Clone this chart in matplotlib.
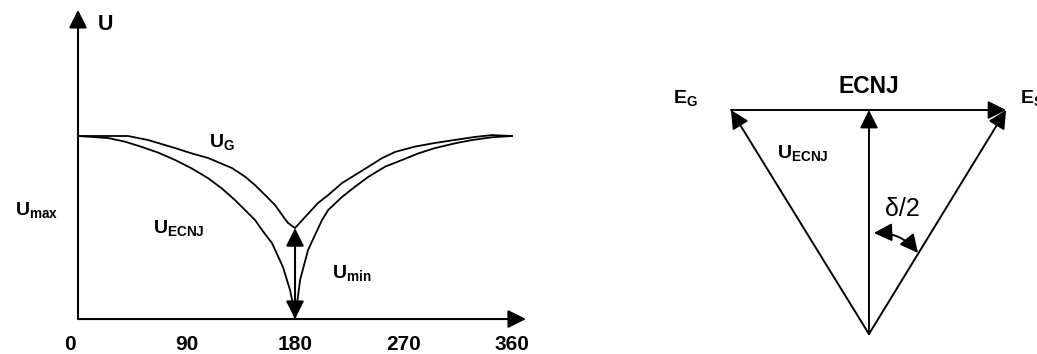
import numpy as np
import matplotlib
matplotlib.use('Agg')
import matplotlib.pyplot as plt
from matplotlib.patches import FancyArrowPatch

plt.rcParams['font.family'] = ['Liberation Sans', 'DejaVu Sans']
plt.rcParams['mathtext.fontset'] = 'custom'
plt.rcParams['mathtext.rm'] = 'Liberation Sans:bold'
plt.rcParams['mathtext.it'] = 'Liberation Sans:bold'
plt.rcParams['mathtext.bf'] = 'Liberation Sans:bold'

# left panel: voltage vs angle (deg), U relative to Umax
angle_ecnj = [0, 24.9, 39.0, 53.1, 66.6, 80.5, 94.3, 107.8, 119.2, 130.2, 146.8, 153.7,
              160.9, 170.0, 175.9, 178.3, 180,
              181.8, 184.2, 190.8, 202.4, 207.6, 219.0, 229.8, 240.6, 254.6, 268.8,
              282.3, 296.1, 312.7, 326.8, 343.2, 360]
u_ecnj = [1.0, 0.989, 0.969, 0.940, 0.909, 0.869, 0.823, 0.770, 0.714, 0.650, 0.541, 0.477,
          0.415, 0.284, 0.158, 0.08, 0.0,
          0.09, 0.213, 0.377, 0.541, 0.596, 0.667, 0.723, 0.776, 0.832, 0.869,
          0.905, 0.934, 0.960, 0.978, 0.993, 1.0]

angle_g = [0, 25.2, 41.5, 58.1, 69.4, 80.5, 94.3, 107.8, 127.7, 138.5, 146.8, 155.1,
           163.4, 170.3, 174.2, 180,
           188.3, 199.1, 207.6, 219.0, 229.8, 240.6, 251.9, 263.0, 279.5, 296.1,
           329.3, 343.4, 360]
u_g = [1.0, 1.0, 1.0, 0.978, 0.956, 0.934, 0.905, 0.880, 0.825, 0.778, 0.732, 0.678,
       0.623, 0.559, 0.525, 0.497,
       0.557, 0.634, 0.678, 0.743, 0.787, 0.831, 0.878, 0.913, 0.942, 0.962,
       0.995, 1.005, 1.0]

tick_vals = [0, 90, 180, 270, 360]
tick_labels = ['0', '90', '180', '270', '360']

# right panel: phasor tips (origin at bottom vertex, |U_ECNJ| = 1)
e_g = (-0.616, 1.0)
e_s = (0.612, 1.0)
u_vec = (0.0, 1.0)

HEAD = '-|>,head_length=1.1,head_width=0.55'
HEAD2 = '<|-|>,head_length=1.1,head_width=0.55'


def arrow(ax, start, end, style=HEAD, lw=1.5):
    ax.annotate('', xy=end, xytext=start,
                arrowprops=dict(arrowstyle=style, color='k', lw=lw,
                                mutation_scale=10, shrinkA=0, shrinkB=0))


fig = plt.figure(figsize=(10.37, 3.54), dpi=100)

ax = fig.add_axes([0, 0, 540 / 1037, 1])
ax.set_xlim(-64.7, 383.2)
ax.set_ylim(-0.191, 1.743)
ax.axis('off')

ax.plot(angle_ecnj, u_ecnj, color='k', lw=1.3)
ax.plot(angle_g, u_g, color='k', lw=1.3)

arrow(ax, (0, 0), (371.6, 0))
arrow(ax, (0, 0), (0, 1.689))
arrow(ax, (180, 0), (180, min(u_g)), style=HEAD2)

for v, lab in zip(tick_vals, tick_labels):
    ax.annotate(lab, (v, -0.169), xytext=(-6 if v == 0 else 0, 0),
                textcoords='offset points', ha='center', va='baseline',
                fontsize=15, fontweight='bold')

bold = dict(fontsize=14, ha='left', va='baseline')
ax.text(16.5, 1.579, 'U', fontsize=15.5, fontweight='bold', ha='left', va='baseline')
ax.text(-52.3, 0.568, r'$U_{max}$', **bold)
ax.text(62.2, 0.470, r'$U_{ECNJ}$', **bold)
ax.text(108.7, 0.940, r'$U_G$', **bold)
ax.text(210.7, 0.224, r'$U_{min}$', **bold)

ax2 = fig.add_axes([560 / 1037, 0, 477 / 1037, 1])
ax2.set_xlim(-1.379, 0.75)
ax2.set_ylim(-0.089, 1.491)
ax2.axis('off')

for tip in (e_g, u_vec, e_s):
    arrow(ax2, (0, 0), tip, lw=1.4)
arrow(ax2, e_g, e_s, lw=1.4)

ax2.add_patch(FancyArrowPatch((0.022, 0.451), (0.219, 0.362),
                              connectionstyle='arc3,rad=-0.25',
                              arrowstyle=HEAD2, mutation_scale=10,
                              color='k', lw=1.4, shrinkA=0, shrinkB=0))

ax2.text(-0.875, 1.031, r'$E_G$', **bold)
ax2.text(0.674, 1.031, r'$E_S$', **bold)
ax2.text(0.0, 1.076, 'ECNJ', fontsize=16.5, fontweight='bold', ha='center', va='baseline')
ax2.text(-0.411, 0.786, r'$U_{ECNJ}$', **bold)
ax2.text(0.071, 0.527, 'δ/2', fontsize=18, ha='left', va='baseline')

fig.savefig('out.png', dpi=100)
